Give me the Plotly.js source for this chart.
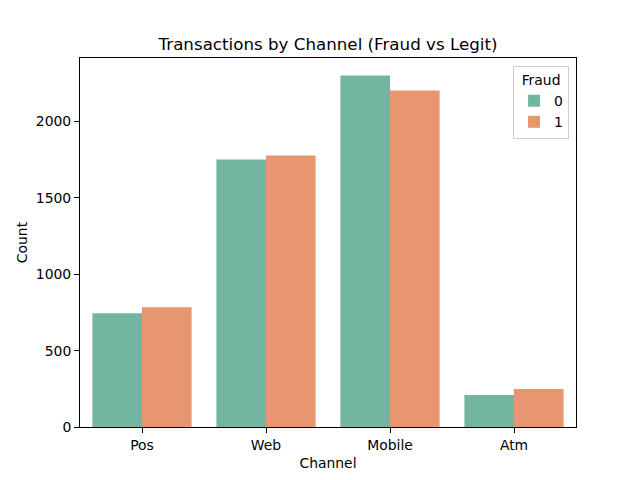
<!DOCTYPE html>
<html>
<head>
<meta charset="utf-8">
<script src="https://cdn.plot.ly/plotly-3.0.1.min.js"></script>
<style>html,body{margin:0;padding:0;background:#fff;}#chart{width:640px;height:480px;}</style>
</head>
<body>
<div id="chart"></div>
<script>
const channels = ["Pos", "Web", "Mobile", "Atm"];
const fraud0 = [745, 1752, 2301, 209];
const fraud1 = [784, 1778, 2203, 248];
const seriesNames = ["0", "1"];
const colors = ["#72b6a1", "#e8966f"];

const font = {family: "DejaVu Sans, sans-serif", color: "#000", size: 13.9};

const traces = [fraud0, fraud1].map((vals, i) => ({
  type: "bar",
  x: channels,
  y: vals,
  name: seriesNames[i],
  marker: {color: colors[i], line: {width: 0}},
  hoverinfo: "x+y+name"
}));

const axisCommon = {
  showline: true, linecolor: "#000", linewidth: 1, mirror: true,
  ticks: "outside", ticklen: 5, tickwidth: 1, tickcolor: "#000",
  showgrid: false, zeroline: false, tickfont: font
};

const layout = {
  width: 640, height: 480,
  margin: {l: 80, r: 64, t: 58, b: 53},
  paper_bgcolor: "#fff", plot_bgcolor: "#fff",
  font: font,
  barmode: "group", bargap: 0.2, bargroupgap: 0,
  title: {text: "Transactions by Channel (Fraud vs Legit)", font: {family: font.family, size: 16.7, color: "#000"}, x: 0.5, xref: "paper", xanchor: "center", y: 1, yref: "paper", yanchor: "bottom", pad: {b: 8}},
  xaxis: Object.assign({}, axisCommon, {
    type: "category", range: [-0.5, 3.5],
    title: {text: "Channel", font: font, standoff: 6}
  }),
  yaxis: Object.assign({}, axisCommon, {
    range: [0, 2416], tickvals: [0, 500, 1000, 1500, 2000],
    title: {text: "Count", font: font, standoff: 4}
  }),
  legend: {
    x: 0.986, xanchor: "right", y: 0.978, yanchor: "top",
    bgcolor: "rgba(255,255,255,0.8)", bordercolor: "#cccccc", borderwidth: 1,
    title: {text: "Fraud", font: font, side: "top center"},
    font: font, traceorder: "normal", itemwidth: 30, tracegroupgap: 0
  },
  showlegend: true
};

Plotly.newPlot("chart", traces, layout, {displayModeBar: false, staticPlot: true});
</script>
</body>
</html>
